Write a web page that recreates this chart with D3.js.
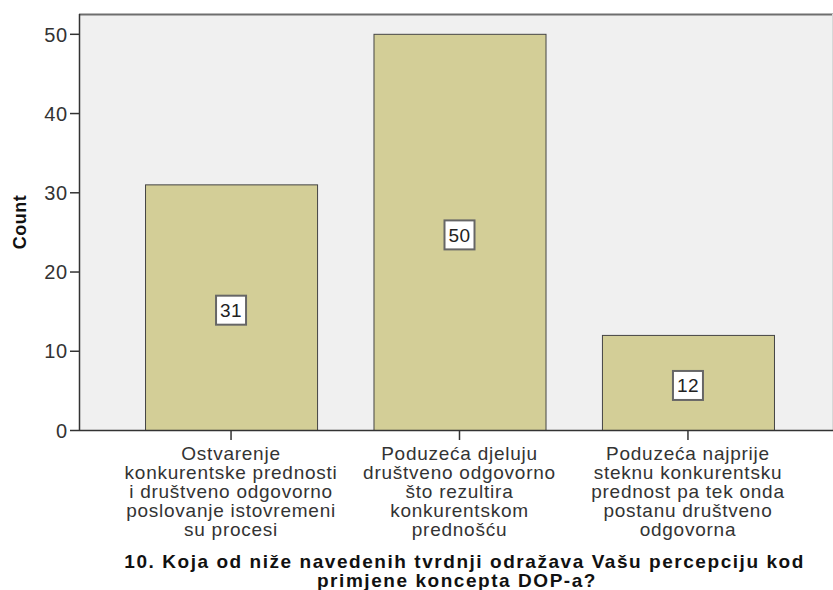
<!DOCTYPE html>
<html>
<head>
<meta charset="utf-8">
<script src="https://cdn.jsdelivr.net/npm/d3@7"></script>
<style>
  body { margin: 0; background: #fff; }
  svg { display: block; }
</style>
</head>
<body>
<svg id="chart" width="833" height="590"></svg>
<script>
const categories = [
  ["Ostvarenje", "konkurentske prednosti", "i društveno odgovorno", "poslovanje istovremeni", "su procesi"],
  ["Poduzeća djeluju", "društveno odgovorno", "što rezultira", "konkurentskom", "prednošću"],
  ["Poduzeća najprije", "steknu konkurentsku", "prednost pa tek onda", "postanu društveno", "odgovorna"]
];
const counts = [31, 50, 12];
const yTicks = [0, 10, 20, 30, 40, 50];
const yTitle = "Count";
const xTitle = ["10. Koja od niže navedenih tvrdnji odražava Vašu percepciju kod ", "primjene koncepta DOP-a?"];

(function () {
const svg = d3.select("#chart");
const pL = 79, pR = 832, pT = 14, pB = 430;
const ids = categories.map((c, i) => i);
const FONT = "Liberation Sans, Arial, sans-serif";

const x = d3.scaleBand().domain(ids).range([pL, 840]).paddingInner(0.247).paddingOuter(0.289);
const y = d3.scaleLinear().domain([0, 52.5]).range([pB, pT]);

svg.append("rect").attr("x", pL).attr("y", pT).attr("width", pR - pL).attr("height", pB - pT)
  .attr("fill", "#f0f0f0");
svg.append("line").attr("x1", pL).attr("x2", pR + 1).attr("y1", pT + 0.5).attr("y2", pT + 0.5)
  .attr("stroke", "#6e6e6e").attr("stroke-width", 2);
svg.append("line").attr("x1", pR + 0.5).attr("x2", pR + 0.5).attr("y1", pT).attr("y2", pB)
  .attr("stroke", "#d8d8d8").attr("stroke-width", 1);

svg.selectAll("rect.bar").data(counts).join("rect").attr("class", "bar")
  .attr("x", (d, i) => x(i) + 0.5)
  .attr("y", d => y(d) + 0.5)
  .attr("width", x.bandwidth())
  .attr("height", d => y(0) - y(d))
  .attr("fill", "#d3ce97")
  .attr("stroke", "#444").attr("stroke-width", 1);

const yAxis = d3.axisLeft(y).tickValues(yTicks).tickSize(9).tickPadding(2).tickFormat(d3.format("d"));
const gy = svg.append("g").attr("transform", `translate(${pL},0)`).call(yAxis);
gy.select(".domain").attr("stroke", "#333").attr("stroke-width", 1.5).attr("d", `M0.5,${pT}V${pB + 1}`);
gy.selectAll(".tick line").attr("stroke", "#333").attr("stroke-width", 1.5);
gy.selectAll(".tick text").attr("fill", "#333").style("font-family", FONT)
  .style("font-size", "20px").style("letter-spacing", "0.8px").attr("dy", "0.36em");

const xAxis = d3.axisBottom(x).tickSize(10).tickFormat("");
const gx = svg.append("g").attr("transform", `translate(0,${pB})`).call(xAxis);
gx.select(".domain").attr("stroke", "#333").attr("stroke-width", 1.5).attr("d", `M${pL},0.5H${pR + 1}`);
gx.selectAll(".tick line").attr("stroke", "#333").attr("stroke-width", 1.5);

const lab = svg.append("g").selectAll("text").data(categories).join("text")
  .attr("x", (d, i) => x(i) + x.bandwidth() / 2)
  .attr("y", 460)
  .attr("text-anchor", "middle")
  .attr("fill", "#333")
  .style("font-family", FONT)
  .style("font-size", "19px")
  .style("letter-spacing", "0.75px");
lab.selectAll("tspan").data(d => d).join("tspan")
  .attr("x", function () { return this.parentNode.getAttribute("x"); })
  .attr("dy", (d, j) => j === 0 ? 0 : 19)
  .text(d => d);

const vl = svg.append("g").selectAll("g").data(counts).join("g")
  .attr("transform", (d, i) => `translate(${x(i) + x.bandwidth() / 2},${(y(0) + y(d)) / 2 + 3})`);
vl.append("rect").attr("x", -15).attr("y", -14.5).attr("width", 30).attr("height", 29)
  .attr("fill", "#fff").attr("stroke", "#666").attr("stroke-width", 2);
vl.append("text").attr("text-anchor", "middle").attr("dy", "0.36em")
  .attr("fill", "#222")
  .style("font-family", FONT).style("font-size", "19px").style("letter-spacing", "0.5px")
  .text(d => d);

svg.append("text").attr("transform", `translate(26,${(pT + pB) / 2}) rotate(-90)`)
  .attr("text-anchor", "middle")
  .style("font-family", FONT).style("font-size", "18px").style("font-weight", "bold")
  .style("letter-spacing", "0.5px")
  .attr("fill", "#111")
  .text(yTitle);

svg.append("text").attr("text-anchor", "middle")
  .style("font-family", FONT).style("font-size", "19px").style("font-weight", "bold")
  .style("letter-spacing", "1.55px")
  .style("white-space", "pre")
  .attr("fill", "#111")
  .selectAll("tspan").data(xTitle).join("tspan")
  .attr("x", (d, i) => i === 0 ? 468 : 457)
  .attr("y", (d, i) => 568 + i * 19)
  .text(d => d);
})();
</script>
</body>
</html>
